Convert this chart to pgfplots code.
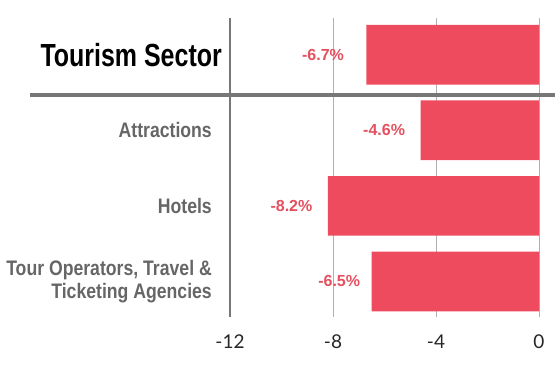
\documentclass[border=0pt]{standalone}
\usepackage{pgfplots}
\pgfplotsset{compat=1.18}
\usepackage{fontspec}
\setmainfont{Liberation Sans}
\newfontfamily\titlefont[FakeStretch=0.78]{Liberation Sans Bold}
\newfontfamily\catfont[FakeStretch=0.84]{Liberation Sans Bold}
\newfontfamily\valfont{Liberation Sans Bold}
\newfontfamily\tickfont{Lato}
\definecolor{barred}{HTML}{EF4B5F}
\definecolor{valred}{HTML}{E4505F}
\definecolor{catgray}{HTML}{666666}
\definecolor{axgray}{HTML}{777777}
\definecolor{gridgray}{HTML}{B0B0B0}
\begin{document}
\begin{tikzpicture}
\path[use as bounding box] (-230bp,-49bp) rectangle (325bp,317bp);
\begin{axis}[
  at={(0,0)}, anchor=south west,
  scale only axis, width=309bp, height=299bp,
  xbar, bar width=0.79, bar shift=0pt,
  xmin=-12, xmax=0,
  ymin=-0.485, ymax=3.47, y dir=reverse,
  ytick={0,1,2,3},
  yticklabels={
    {\titlefont\fontsize{32bp}{34bp}\selectfont\color{black}\raisebox{-4bp}{Tourism Sector}\kern-10bp},
    {Attractions},
    {Hotels},
    {Tour Operators, Travel \&\\Ticketing Agencies}},
  yticklabel style={font=\catfont\fontsize{21bp}{23bp}\selectfont, text=catgray, align=right, inner sep=0pt, xshift=-18bp},
  xtick={-12,-8,-4,0},
  xticklabels={-12,-8,-4,0},
  xticklabel style={font=\tickfont\fontsize{19bp}{21bp}\selectfont, text=black!85, inner sep=0pt, yshift=-18bp},
  xmajorgrids, grid style={gridgray, line width=0.9bp},
  major tick length=0pt,
  axis x line*=bottom, x axis line style={draw=none},
  axis y line*=left, y axis line style={draw=axgray, line width=1.8bp},
  tick style={draw=none},
  clip=false,
  point meta=explicit symbolic,
  nodes near coords,
  every node near coord/.append style={anchor=east, xshift=-12bp, font=\valfont\fontsize{16bp}{18bp}\selectfont, text=valred},
]
\addplot[fill=barred, draw=none] coordinates {
  (-6.7,0) [-6.7\%\kern7bp]
  (-4.6,1) [-4.6\%]
  (-8.2,2) [-8.2\%]
  (-6.5,3) [-6.5\%\kern-4bp]
};
\draw[axgray, line width=3.5bp] (axis cs:-19.77,0.533) -- (axis cs:0.62,0.533);
\end{axis}
\end{tikzpicture}
\end{document}
